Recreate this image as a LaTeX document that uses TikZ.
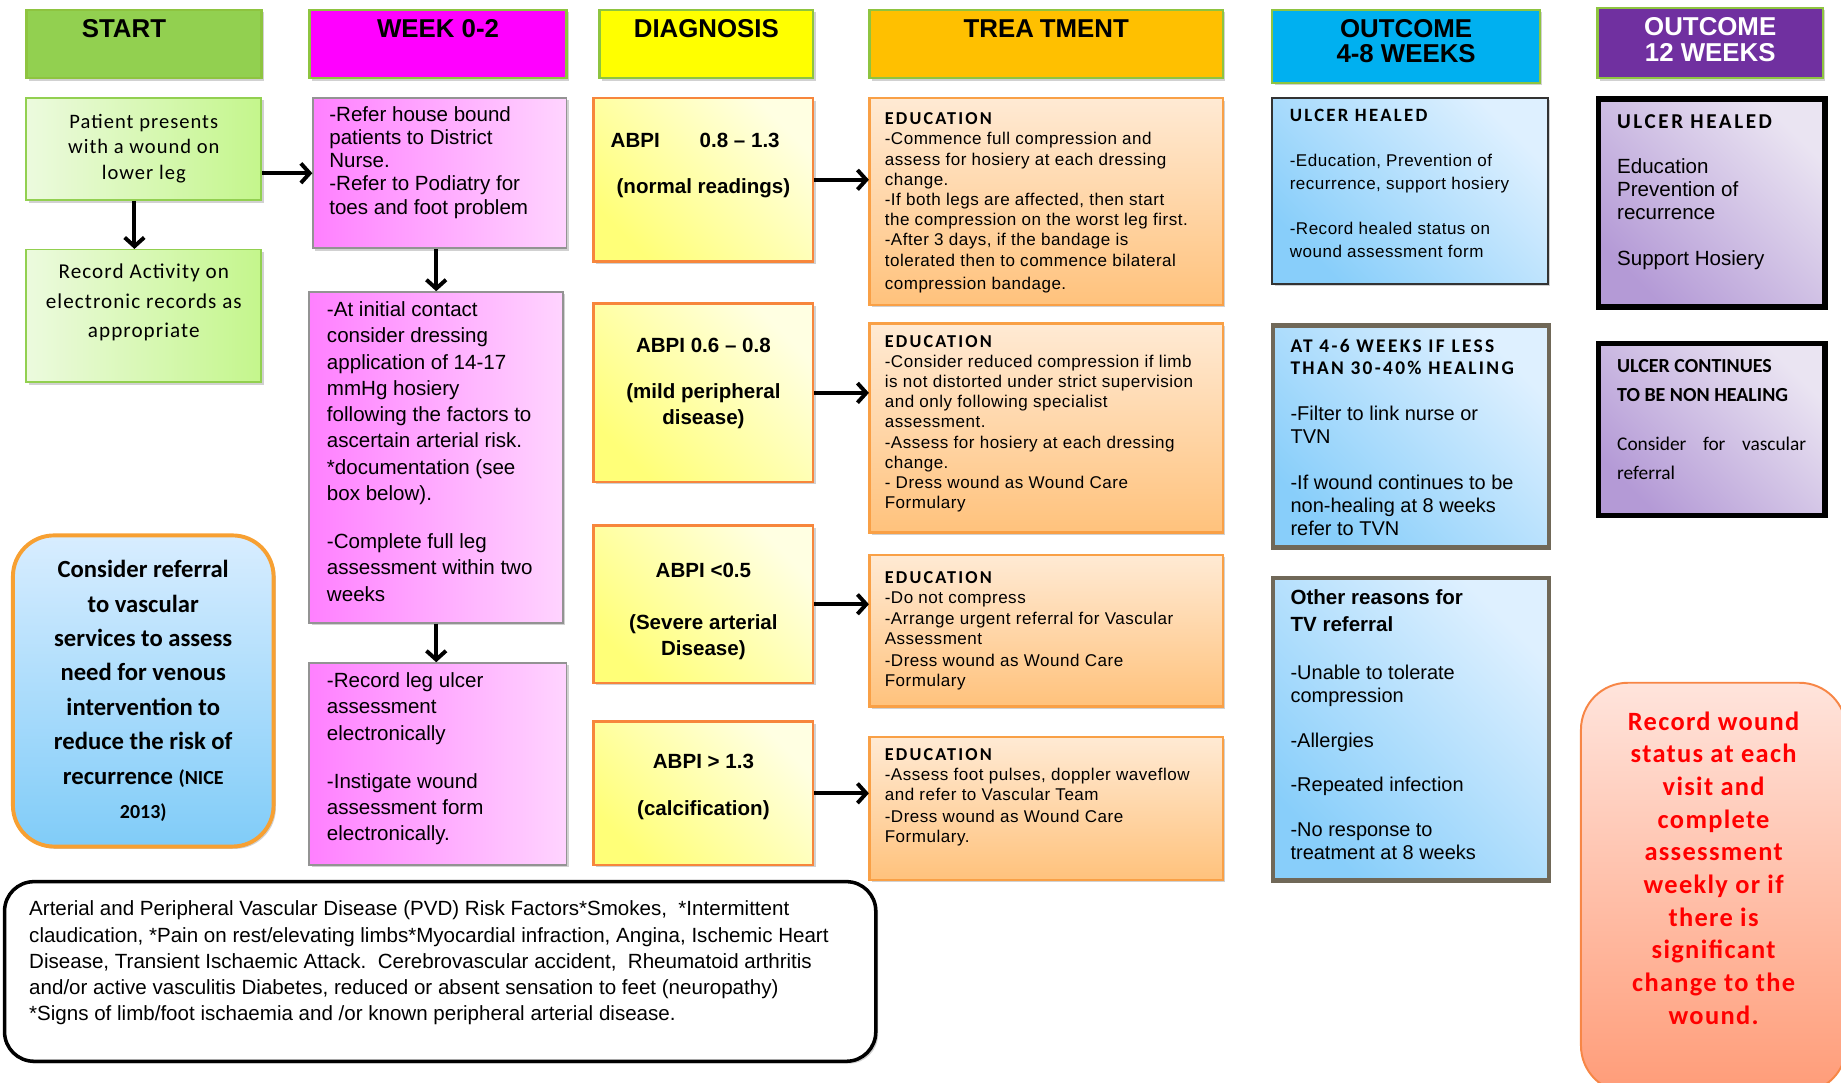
\documentclass[tikz,border=0pt]{standalone}
\usepackage{fontspec}
\setmainfont{Liberation Sans}
\newfontfamily\calibri{Carlito}
\newfontfamily\calibrisp[LetterSpace=5]{Carlito}
\newfontfamily\spacedcal[LetterSpace=12]{Carlito}
\newfontfamily\arialsp[LetterSpace=3]{Liberation Sans}
\usetikzlibrary{arrows.meta,calc,shadows}

\newcommand{\fsz}[2]{\fontsize{#1}{#2}\selectfont}
\newcommand{\edu}{\spacedcal\bfseries\fsz{15.5}{17.2}}
% fixed-size cell, text hung from the top: [align]{width}{height}{first baseline}{text}
\newcommand{\boxcell}[5][\raggedright]{\parbox[c][#3pt][t]{#2pt}{#1\leavevmode\rule{0pt}{#4pt}#5}}

\begin{document}
\begin{tikzpicture}[x=1pt, y=-1pt, scale=0.6,
				every node/.style={transform shape, anchor=north west, inner sep=0pt},
				shadowed/.style={drop shadow={shadow xshift=1.2pt, shadow yshift=-1.2pt, opacity=0.3, fill=black!60}},
				hdr/.style={rectangle, draw=hdrline, line width=1.2pt, font=\bfseries\fsz{22}{22}, shadowed},
				startbox/.style={rectangle, draw=startline, line width=1pt, left color=startlight, right color=startdark, shadowed},
				weekbox/.style={rectangle, draw=gray!85, line width=1pt, left color=weekdark, right color=weeklight, shadowed},
				diagbox/.style={rectangle, draw=diagline, line width=1.2pt, top color=diaglight, bottom color=diagdark, shading angle=-45, shadowed},
				treatbox/.style={rectangle, draw=treatline, line width=1.2pt, top color=treatlight, bottom color=treatdark, shadowed, inner xsep=13pt},
				outbox/.style={rectangle, draw=outframe, line width=2.4pt, top color=outlight, bottom color=outdark, shading angle=-45, shadowed, inner xsep=15pt},
				latebox/.style={rectangle, draw=black, line width=2.7pt, top color=latelight, bottom color=latedark, shading angle=-45, shadowed, inner xsep=16pt},
				notebox/.style={rectangle, rounded corners=21pt, draw=noteline, line width=2pt, top color=notelight, bottom color=notedark, shadowed},
				woundbox/.style={rectangle, rounded corners=24pt, draw=woundline, line width=1pt, top color=woundlight, bottom color=wounddark, text=red},
				riskbox/.style={rectangle, rounded corners=15pt, draw=black, line width=1.8pt, fill=white, shadowed, inner xsep=21pt},
				arrow/.style={-{Straight Barb[length=4.5pt,width=10pt]}, line width=2pt}]

	\definecolor{hdrline}{RGB}{142,196,64}
	\definecolor{startgreen}{RGB}{146,208,80}
	\definecolor{weekpink}{RGB}{255,0,255}
	\definecolor{diagyellow}{RGB}{255,255,0}
	\definecolor{treatorange}{RGB}{255,192,0}
	\definecolor{outblue}{RGB}{0,176,240}
	\definecolor{outpurple}{RGB}{112,48,160}
	\definecolor{startline}{RGB}{146,208,80}
	\definecolor{startlight}{RGB}{236,250,222}
	\definecolor{startdark}{RGB}{196,246,140}
	\definecolor{weekdark}{RGB}{255,128,255}
	\definecolor{weeklight}{RGB}{255,212,255}
	\definecolor{diagline}{RGB}{247,134,60}
	\definecolor{diaglight}{RGB}{255,255,226}
	\definecolor{diagdark}{RGB}{255,255,120}
	\definecolor{treatline}{RGB}{249,160,70}
	\definecolor{treatlight}{RGB}{255,234,212}
	\definecolor{treatdark}{RGB}{255,194,124}
	\definecolor{outframe}{RGB}{112,104,88}
	\definecolor{outlight}{RGB}{222,240,255}
	\definecolor{outdark}{RGB}{136,206,250}
	\definecolor{latelight}{RGB}{234,228,242}
	\definecolor{latedark}{RGB}{180,154,214}
	\definecolor{noteline}{RGB}{247,160,50}
	\definecolor{notelight}{RGB}{216,237,255}
	\definecolor{notedark}{RGB}{128,204,248}
	\definecolor{woundline}{RGB}{247,134,70}
	\definecolor{woundlight}{RGB}{255,228,220}
	\definecolor{wounddark}{RGB}{255,156,120}

	\useasboundingbox (0,0) rectangle (1568,922);

	% column headers
	\node[hdr, fill=startgreen] (hstart) at (22,8) {\boxcell[\centering]{200}{58}{23}{\hspace*{-34pt}START}};
	\node[hdr, fill=weekpink] (hweek) at (263,8) {\boxcell[\centering]{219}{58}{23}{WEEK 0-2}};
	\node[hdr, fill=diagyellow] (hdiag) at (510,8) {\boxcell[\centering]{182}{58}{23}{DIAGNOSIS}};
	\node[hdr, fill=treatorange] (htreat) at (740,8) {\boxcell[\centering]{301}{58}{23}{TREA\kern5pt TMENT}};
	\node[hdr, fill=outblue] (hout) at (1083,8) {\boxcell[\centering]{228}{62}{23}{OUTCOME\\4-8 WEEKS}};
	\node[hdr, fill=outpurple, text=white] (hlate) at (1360,6) {\boxcell[\centering]{192}{60}{24}{OUTCOME\\12 WEEKS}};

	% start
	\node[startbox] (patient) at (22,83) {\boxcell[\centering]{200}{87}{26}{\calibrisp\fsz{17.5}{21.5}Patient presents\\with a wound on\\lower leg}};
	\node[startbox] (activity) at (22,212) {\boxcell[\centering]{200}{113}{25}{\calibrisp\fsz{18}{25}Record Activity on\\electronic records as\\appropriate}};

	% week 0-2
	\node[weekbox, inner xsep=14pt] (refer) at (266,83) {\boxcell{188}{128}{20}{\fsz{17.5}{19.7}-Refer house bound\\patients to District\\Nurse.\\-Refer to Podiatry for\\toes and foot problem}};
	\node[weekbox, inner xsep=15pt] (contact) at (263,248) {\boxcell{186}{282}{21}{\fsz{17.5}{22.4}-At initial contact\\consider dressing\\application of 14-17\\mmHg hosiery\\following the factors to\\ascertain arterial risk.\\{*}documentation (see\\box below).\\[18.6pt]-Complete full leg\\assessment within two\\weeks}};
	\node[weekbox, inner xsep=15pt] (legrec) at (263,564) {\boxcell{189}{172}{21}{\fsz{17.5}{22.4}-Record leg ulcer\\assessment\\electronically\\[18.6pt]-Instigate wound\\assessment form\\electronically.}};

	% diagnosis
	\node[diagbox] (dnormal) at (505,83) {\boxcell[\centering]{187}{139}{42}{\bfseries\fsz{17.5}{22}\hspace*{-14pt}ABPI\hspace{34pt}0.8 -- 1.3\\[17pt](normal readings)}};
	\node[diagbox] (dmild) at (505,258) {\boxcell[\centering]{187}{152}{42}{\bfseries\fsz{17.5}{22}ABPI 0.6 -- 0.8\\[17pt](mild peripheral\\disease)}};
	\node[diagbox] (dsevere) at (505,447) {\boxcell[\centering]{187}{134}{44}{\bfseries\fsz{17.5}{22.5}ABPI <0.5\\[22pt](Severe arterial\\Disease)}};
	\node[diagbox] (dcalc) at (505,614) {\boxcell[\centering]{187}{122}{40}{\bfseries\fsz{17.5}{22}ABPI > 1.3\\[18pt](calcification)}};

	% treatment
	\node[treatbox] (tnormal) at (740,83) {\boxcell{275}{176}{22.6}{\arialsp\fsz{14.5}{17.2}{\edu EDUCATION}\\-Commence full compression and\\assess for hosiery at each dressing\\change.\\-If both legs are affected, then start\\the compression on the worst leg first.\\-After 3 days, if the bandage is\\tolerated then to commence bilateral\\[2.5pt]compression bandage.}};
	\node[treatbox] (tmild) at (740,275) {\boxcell{275}{178}{20.5}{\arialsp\fsz{14.5}{17.1}{\edu EDUCATION}\\-Consider reduced compression if limb\\is not distorted under strict supervision\\and only following specialist\\assessment.\\-Assess for hosiery at each dressing\\change.\\- Dress wound as Wound Care\\Formulary}};
	\node[treatbox] (tsevere) at (740,472) {\boxcell{275}{129}{24.5}{\arialsp\fsz{14.5}{17.3}{\edu EDUCATION}\\-Do not compress\\-Arrange urgent referral for Vascular\\Assessment\\[1.5pt]-Dress wound as Wound Care\\Formulary}};
	\node[treatbox] (tcalc) at (740,627) {\boxcell{275}{122}{19.8}{\arialsp\fsz{14.5}{17}{\edu EDUCATION}\\-Assess foot pulses, doppler waveflow\\and refer to Vascular Team\\[2pt]-Dress wound as Wound Care\\Formulary.}};

	% outcome 4-8 weeks
	\node[outbox, draw=black!80, line width=1pt] (healed) at (1083,83) {\boxcell{205}{158}{20.4}{{\spacedcal\bfseries\fsz{16}{20}ULCER HEALED\par}\vspace{18.5pt}\arialsp\fsz{14.5}{19.7}-Education, Prevention of\\recurrence, support hosiery\\[18.5pt]-Record healed status on\\wound assessment form}};
	\node[outbox] (slow) at (1083,276) {\boxcell{205}{189}{23}{{\spacedcal\bfseries\fsz{16.5}{19}AT 4-6 WEEKS IF LESS\\THAN 30-40\% HEALING\par}\vspace{19.5pt}\fsz{17}{19.6}-Filter to link nurse or\\TVN\\[19.8pt]-If wound continues to be\\non-healing at 8 weeks\\refer to TVN}};
	\node[outbox] (otherref) at (1083,491) {\boxcell{205}{258}{23}{{\bfseries\fsz{17.5}{22.7}Other reasons for\\TV referral\par}\vspace{21pt}\fsz{17}{19.5}-Unable to tolerate\\compression\\[19pt]-Allergies\\[18.5pt]-Repeated infection\\[18.5pt]-No response to\\treatment at 8 weeks}};

	% outcome 12 weeks
	\node[latebox] (lhealed) at (1360,83) {\boxcell{161}{177}{25}{{\spacedcal\bfseries\fsz{18}{20}ULCER HEALED\par}\vspace{18.5pt}\fsz{17.5}{19.6}Education\\Prevention of\\recurrence\\[20pt]Support Hosiery}};
	\node[latebox] (nonheal) at (1360,291) {\boxcell{161}{147}{25}{{\calibri\bfseries\fsz{17}{24.3}ULCER CONTINUES\\TO BE NON HEALING\par}\vspace{18pt}\calibri\fsz{16.5}{24.3}Consider\hfill for\hfill vascular\\referral}};

	% side notes
	\node[notebox] (vascref) at (10,455) {\boxcell[\centering]{222}{265}{36}{\calibri\bfseries\fsz{21}{29.3}Consider referral\\to vascular\\services to assess\\need for venous\\intervention to\\reduce the risk of\\recurrence {\fsz{17}{29.3}(NICE}\\{\fsz{17}{29.3}2013)}}};
	\node[riskbox] (riskfactors) at (3,750) {\boxcell{700}{153}{29}{\fsz{17.5}{22.4}Arterial and Peripheral Vascular Disease (PVD) Risk Factors*Smokes,\ \ *Intermittent\\claudication, *Pain on rest/elevating limbs*Myocardial infraction, Angina, Ischemic Heart\\Disease, Transient Ischaemic Attack.\ \ Cerebrovascular accident,\ \ Rheumatoid arthritis\\and/or active vasculitis Diabetes, reduced or absent sensation to feet (neuropathy)\\{*}Signs of limb/foot ischaemia and /or known peripheral arterial disease.}};
	\node[woundbox] (recordwound) at (1346,581) {\boxcell[\centering]{226}{349}{40.5}{\calibrisp\bfseries\fsz{22.5}{27.8}Record wound\\status at each\\visit and\\complete\\assessment\\weekly or if\\there is\\significant\\change to the\\wound.}};

	% connectors
	\draw (patient.east |- refer.west) edge[arrow] (refer.west);
	\draw ($(patient.south)+(-8,0)$) edge[arrow] ($(activity.north)+(-8,0)$);
	\draw (refer.south -| contact.north) edge[arrow] (contact.north);
	\draw (contact.south) edge[arrow] (contact.south |- legrec.north);
	\draw (dnormal.east) edge[arrow] (dnormal.east -| tnormal.west);
	\draw (dmild.east) edge[arrow] (dmild.east -| tmild.west);
	\draw (dsevere.east) edge[arrow] (dsevere.east -| tsevere.west);
	\draw (dcalc.east) edge[arrow] (dcalc.east -| tcalc.west);
\end{tikzpicture}
\end{document}
